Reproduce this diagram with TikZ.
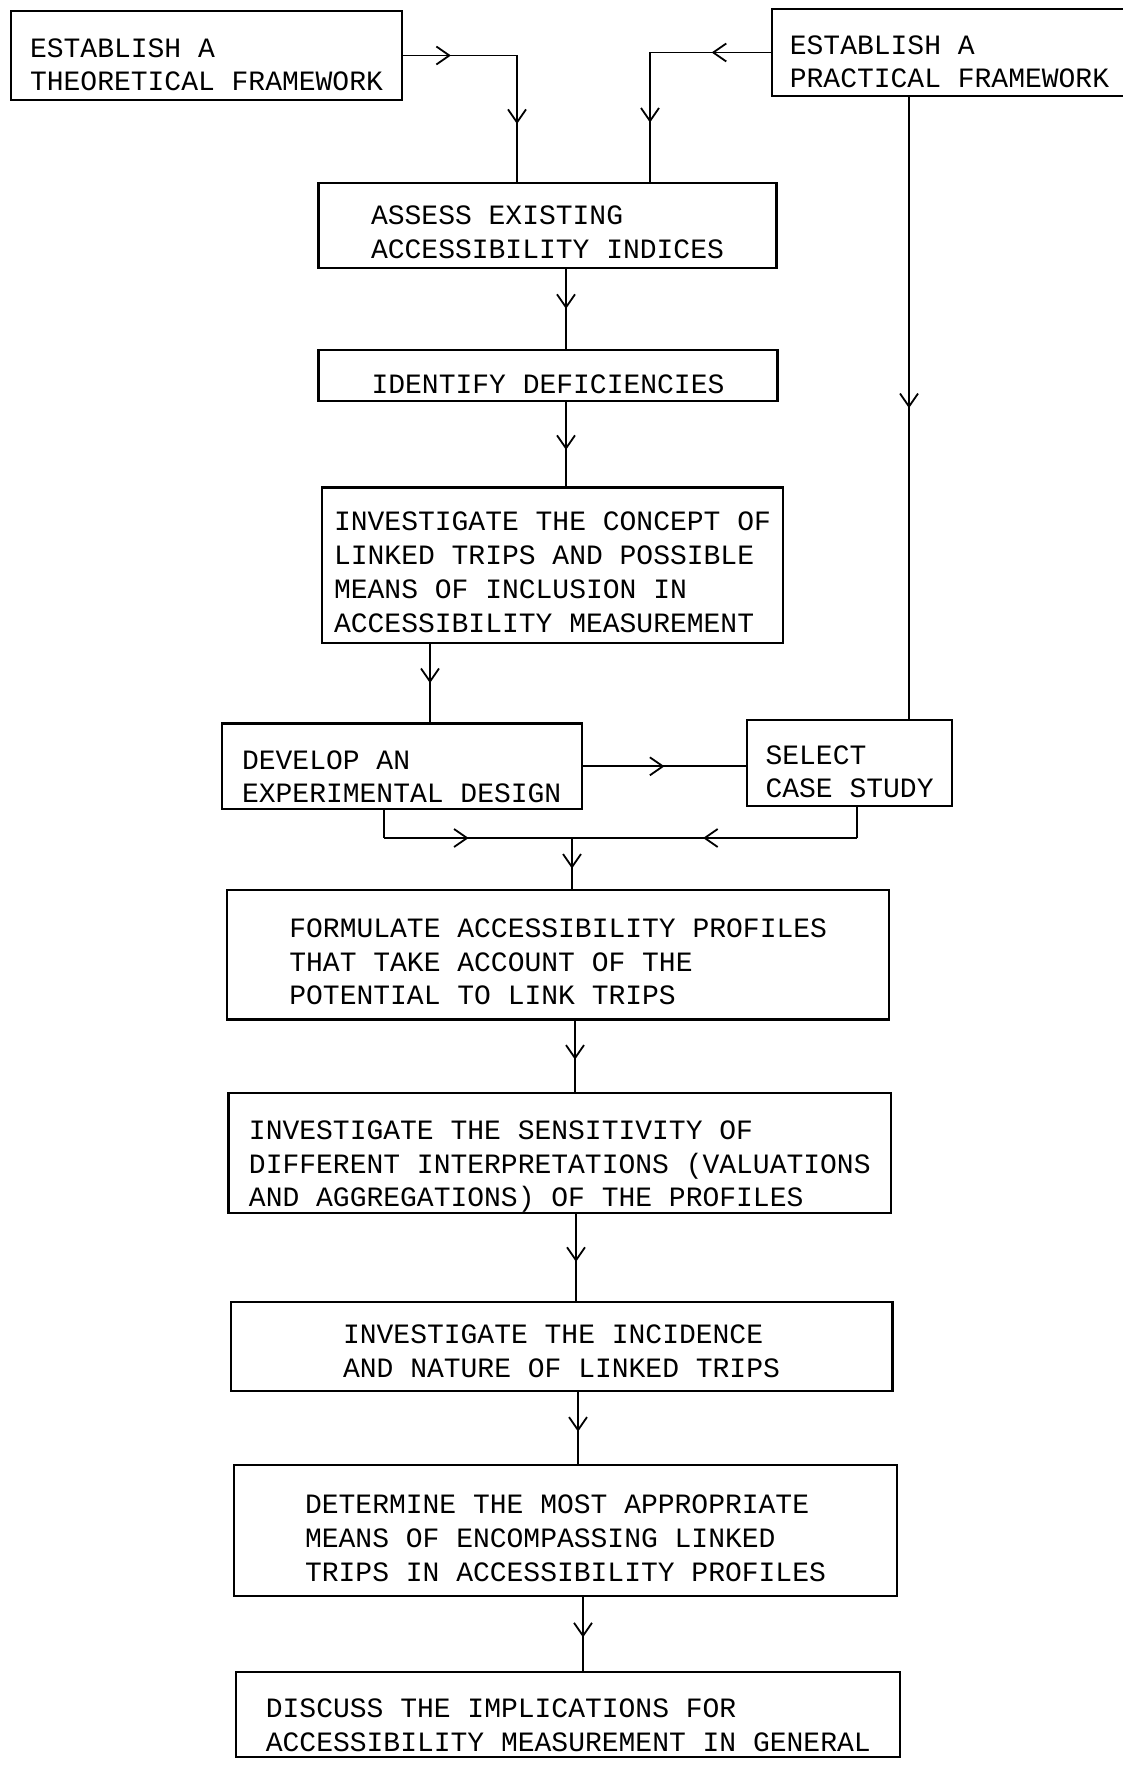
\documentclass[tikz,border=0pt]{standalone}
\usepackage{fontspec}
\setmonofont{Liberation Mono}
\usetikzlibrary{arrows.meta,decorations.markings}

\tikzset{
  stage/.style={draw, line width=1.1pt, inner sep=0pt, align=left,
    font=\ttfamily\fontsize{14}{16.9}\selectfont, text depth=0pt},
  flow/.style={line width=0.9pt, decoration={markings,
    mark=at position #1 with {\arrow{Straight Barb[length=6.5pt,width=9pt,line width=0.9pt]}}},
    postaction={decorate}},
  flow/.default=0.55,
  link/.style={line width=0.9pt}
}

\begin{document}
\begin{tikzpicture}[x=0.5pt, y=-0.5pt]
\useasboundingbox (0,0) rectangle (1123,1765);
\clip (0,0) rectangle (1123,1765);

\node[stage, minimum width=195.5pt, minimum height=44.5pt, text height=35.5pt] (theo) at (206.5,55.5) {ESTABLISH A\\THEORETICAL FRAMEWORK};
\node[stage, minimum width=177.5pt, minimum height=43.5pt, text height=35.5pt] (prac) at (949.5,52.5) {ESTABLISH A\\PRACTICAL FRAMEWORK};
\node[stage, minimum width=229pt, minimum height=42.2pt, text height=33.2pt] (assess) at (547.5,225.6) {ASSESS EXISTING\\ACCESSIBILITY INDICES};
\node[stage, minimum width=229.5pt, minimum height=25.3pt, text height=18.6pt] (ident) at (548,375.3) {IDENTIFY DEFICIENCIES};
\node[stage, minimum width=230.7pt, minimum height=77.6pt, text height=67pt] (concept) at (552.5,565) {INVESTIGATE THE CONCEPT OF\\LINKED TRIPS AND POSSIBLE\\MEANS OF INCLUSION IN\\ACCESSIBILITY MEASUREMENT};
\node[stage, minimum width=180pt, minimum height=42.75pt, text height=36.6pt] (dev) at (401.7,766.3) {DEVELOP AN\\EXPERIMENTAL DESIGN};
\node[stage, minimum width=102.4pt, minimum height=42.75pt, text height=34.9pt] (sel) at (849.6,763) {SELECT\\CASE STUDY};
\node[stage, minimum width=331pt, minimum height=64.7pt, text height=50.1pt] (form) at (558.2,954.8) {FORMULATE ACCESSIBILITY PROFILES\\THAT TAKE ACCOUNT OF THE\\POTENTIAL TO LINK TRIPS};
\node[stage, minimum width=331.4pt, minimum height=60.2pt, text height=54pt] (sens) at (559.8,1152.9) {INVESTIGATE THE SENSITIVITY OF\\DIFFERENT INTERPRETATIONS (VALUATIONS\\AND AGGREGATIONS) OF THE PROFILES};
\node[stage, minimum width=330.9pt, minimum height=44.5pt, text height=30.9pt] (inc) at (561.5,1346.4) {INVESTIGATE THE INCIDENCE\\AND NATURE OF LINKED TRIPS};
\node[stage, minimum width=331.4pt, minimum height=65.2pt, text height=50.7pt] (det) at (565.5,1530.4) {DETERMINE THE MOST APPROPRIATE\\MEANS OF ENCOMPASSING LINKED\\TRIPS IN ACCESSIBILITY PROFILES};
\node[stage, minimum width=332pt, minimum height=42.7pt, text height=36.5pt] (disc) at (568.3,1714.5) {DISCUSS THE IMPLICATIONS FOR\\ACCESSIBILITY MEASUREMENT IN GENERAL};

% junction points
\coordinate (ct) at (517,0);
\coordinate (cp) at (650,0);
\coordinate (cr) at (909,0);
\coordinate (ca) at (566,0);
\coordinate (cc) at (430,0);
\coordinate (cd) at (384,838);
\coordinate (cs) at (857,838);
\coordinate (cm) at (572,838);
\coordinate (k1) at (575,0);
\coordinate (k2) at (576,0);
\coordinate (k3) at (578,0);
\coordinate (k4) at (583,0);

\draw[flow=0.42] (theo.east) -- (theo.east -| ct);
\draw[flow=0.54] (theo.east -| ct) -- (ct |- assess.north);
\draw[flow=0.49] (prac.west) -- (prac.west -| cp);
\draw[flow=0.54] (prac.west -| cp) -- (cp |- assess.north);
\draw[flow=0.5] (prac.south -| cr) -- (cr |- sel.north);

\draw[flow=0.5] (assess.south -| ca) -- (ident.north -| ca);
\draw[flow=0.57] (ident.south -| ca) -- (concept.north -| ca);
\draw[flow=0.5] (concept.south -| cc) -- (dev.north -| cc);
\draw[flow=0.5] (dev.east) -- (dev.east -| sel.west);

\draw[link] (dev.south -| cd) -- (cd);
\draw[flow=0.45] (cd) -- (cm);
\draw[link] (sel.south -| cs) -- (cs);
\draw[flow=0.54] (cs) -- (cm);
\draw[flow=0.6] (cm) -- (cm |- form.north);

\foreach \u/\v/\c in {form/sens/k1,sens/inc/k2,inc/det/k3,det/disc/k4} \draw[flow] (\u.south -| \c) -- (\v.north -| \c);

\end{tikzpicture}
\end{document}
